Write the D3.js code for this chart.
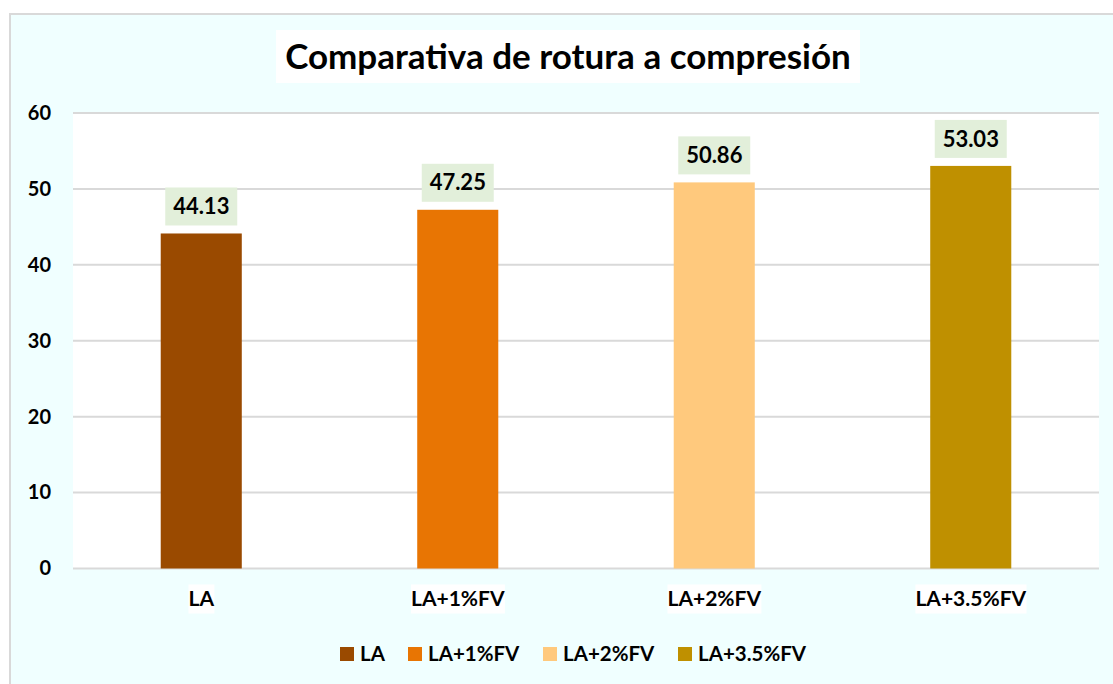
<!DOCTYPE html>
<html>
<head>
<meta charset="utf-8">
<script src="https://cdn.jsdelivr.net/npm/d3@7"></script>
<style>
  html, body { margin: 0; padding: 0; background: #ffffff; }
  svg { display: block; font-family: Lato, "Open Sans", sans-serif; }
</style>
</head>
<body>
<svg id="chart" width="1113" height="684"></svg>
<script>
// Compressive strength by mix
const categories = ["LA", "LA+1%FV", "LA+2%FV", "LA+3.5%FV"];
const values = [44.13, 47.25, 50.86, 53.03];
const colors = ["#9A4A00", "#E87503", "#FFC97D", "#BF9000"];
const yTicks = [0, 10, 20, 30, 40, 50, 60];
const title = "Comparativa de rotura a compresión";

const svg = d3.select("#chart");

// chart frame
svg.append("rect")
  .attr("x", 10).attr("y", 14)
  .attr("width", 1120).attr("height", 690)
  .attr("fill", "#F0FFFF")
  .attr("stroke", "#D9D9D9").attr("stroke-width", 2);

const plot = { left: 73, right: 1099, top: 113, bottom: 568.5 };

// plot area
svg.append("rect")
  .attr("x", plot.left).attr("y", plot.top)
  .attr("width", plot.right - plot.left).attr("height", plot.bottom - plot.top)
  .attr("fill", "#ffffff");

const x = d3.scaleBand()
  .domain(categories)
  .range([plot.left, plot.right])
  .paddingInner(0.684).paddingOuter(0.342);

const y = d3.scaleLinear().domain([0, 60]).range([plot.bottom, plot.top]);

// gridlines
svg.append("g")
  .selectAll("line")
  .data(yTicks)
  .join("line")
  .attr("x1", plot.left).attr("x2", plot.right)
  .attr("y1", d => y(d)).attr("y2", d => y(d))
  .attr("stroke", "#D9D9D9").attr("stroke-width", 2);

// y axis labels
const yAxis = d3.axisLeft(y).tickValues(yTicks).tickSize(0).tickPadding(0);
svg.append("g")
  .attr("transform", `translate(51,0)`)
  .call(yAxis)
  .call(g => g.select(".domain").remove())
  .selectAll("text")
  .attr("font-family", "Lato, sans-serif")
  .attr("font-size", 20).attr("font-weight", "bold")
  .attr("fill", "#000");

// bars
svg.append("g")
  .selectAll("rect")
  .data(categories)
  .join("rect")
  .attr("x", d => x(d))
  .attr("width", x.bandwidth())
  .attr("y", (d, i) => y(values[i]))
  .attr("height", (d, i) => y(0) - y(values[i]))
  .attr("fill", (d, i) => colors[i]);

// value labels with green boxes
const lbl = svg.append("g")
  .selectAll("g")
  .data(categories)
  .join("g")
  .attr("transform", (d, i) => `translate(${x(d) + x.bandwidth() / 2},${y(values[i]) - 27})`);
lbl.append("rect")
  .attr("x", -36).attr("y", -19)
  .attr("width", 72).attr("height", 38)
  .attr("fill", "#E2EFDA");
lbl.append("text")
  .attr("text-anchor", "middle")
  .attr("dy", "0.35em")
  .attr("font-size", 22).attr("font-weight", "bold")
  .attr("fill", "#000")
  .text((d, i) => values[i].toFixed(2));

// x axis category labels
const xl = svg.append("g")
  .selectAll("g")
  .data(categories)
  .join("g")
  .attr("transform", d => `translate(${x(d) + x.bandwidth() / 2},599)`);
xl.append("text")
  .attr("text-anchor", "middle")
  .attr("dy", "0.35em")
  .attr("font-size", 21).attr("font-weight", "bold")
  .attr("fill", "#000")
  .text(d => d);
xl.each(function () {
  const g = d3.select(this);
  const bb = g.select("text").node().getBBox();
  g.insert("rect", "text")
    .attr("x", bb.x).attr("y", -14.5)
    .attr("width", bb.width).attr("height", 29)
    .attr("fill", "#ffffff");
});

// title
const tg = svg.append("g").attr("transform", "translate(568,57)");
tg.append("rect")
  .attr("x", -292).attr("y", -27)
  .attr("width", 584).attr("height", 53)
  .attr("fill", "#ffffff");
tg.append("text")
  .attr("text-anchor", "middle")
  .attr("dy", "0.35em")
  .attr("font-size", 35).attr("font-weight", "bold")
  .attr("fill", "#000")
  .text(title);

// legend
const legendX = [340, 408, 543, 678];
const lg = svg.append("g")
  .selectAll("g")
  .data(categories)
  .join("g")
  .attr("transform", (d, i) => `translate(${legendX[i]},654)`);
lg.append("rect")
  .attr("x", 0).attr("y", -7)
  .attr("width", 14).attr("height", 14)
  .attr("fill", (d, i) => colors[i]);
lg.append("text")
  .attr("x", 20)
  .attr("dy", "0.35em")
  .attr("font-size", 20.5).attr("font-weight", "bold")
  .attr("fill", "#000")
  .text(d => d);
</script>
</body>
</html>
